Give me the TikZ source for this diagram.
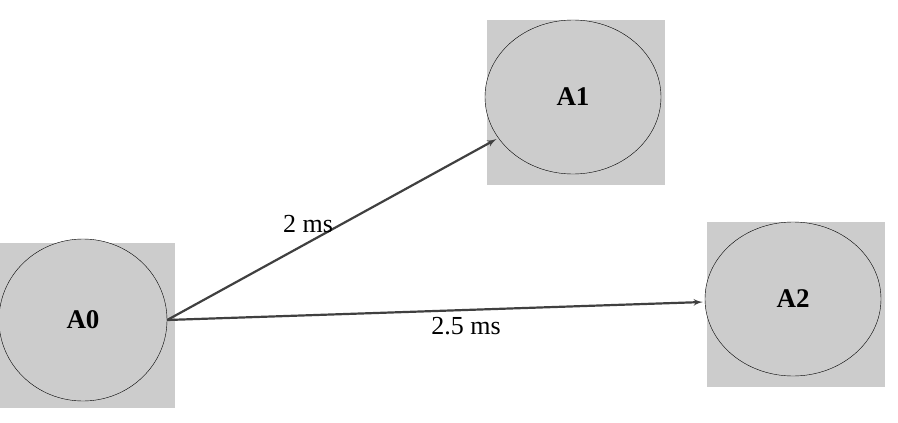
\documentclass[tikz,border=0pt]{standalone}
\usepackage{fontspec}
\setmainfont{Liberation Serif}
\usetikzlibrary{shapes,positioning,calc,arrows}
\begin{document}
\begin{tikzpicture}[x=1pt,y=-1pt,join=round]
		\tikzstyle{box}=[fill=black!20, draw=none, minimum width=178, minimum height=165, inner sep=0];
		\tikzstyle{state}=[draw, ellipse, fill=black!20, inner sep=0, font=\fontsize{27}{30}\selectfont\bfseries];
		\tikzstyle{link}=[-latex', line width=2.2, draw=black!75, shorten >=2];
		\tikzstyle{delay}=[font=\fontsize{26}{30}\selectfont];

		\useasboundingbox (0,0) rectangle (898,423);

		\node[box] (b0) at (86,325) {};
		\node[box] (b1) at (576,102) {};
		\node[box] (b2) at (796,304) {};

		\node[state, minimum width=168, minimum height=162] (a0) at (83,320) {A0};
		\node[state, minimum width=176, minimum height=154] (a1) at (573,97) {A1};
		\node[state, minimum width=176, minimum height=154] (a2) at (793,299) {A2};

		\draw[link] (a0.east) -- (a1);
		\draw[link] (a0.east) -- (a2);

		\node[delay] at (308,224) {2 ms};
		\node[delay] at (466,326) {2.5 ms};
\end{tikzpicture}
\end{document}
